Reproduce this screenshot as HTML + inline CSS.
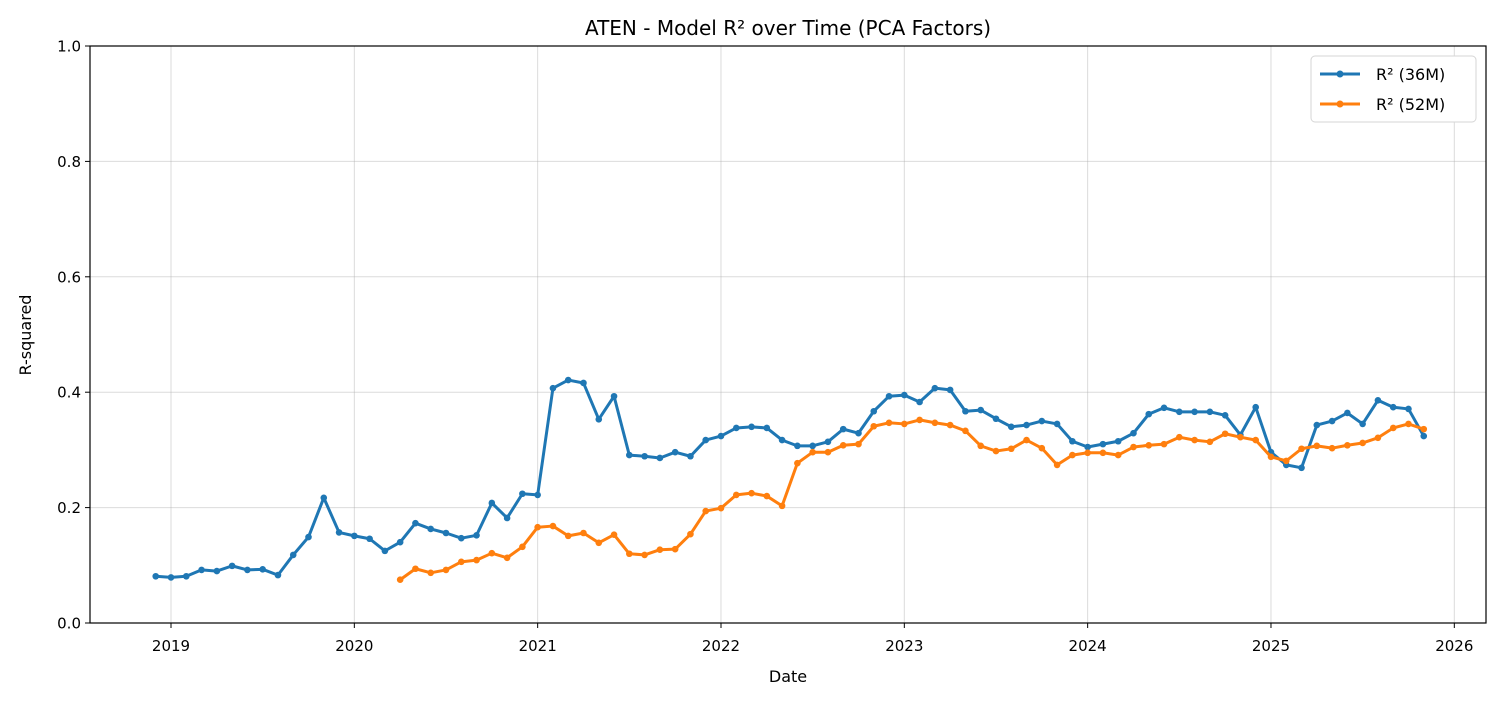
<!DOCTYPE html>
<html><head><meta charset="utf-8">
<style>
html,body{margin:0;padding:0;background:#fff;}
svg{display:block;font-family:"DejaVu Sans","Liberation Sans",sans-serif;}
</style></head>
<body>
<svg id="chart" width="1501" height="701" viewBox="0 0 1501 701">
<rect width="1501" height="701" fill="#fff"/>
<text x="788" y="35" font-size="20" text-anchor="middle" fill="#000">ATEN - Model R² over Time (PCA Factors)</text>
<g id="grid"></g>
<g id="series"></g>
<rect x="90" y="46" width="1396" height="577" fill="none" stroke="#000" stroke-width="1.2"/>
<g id="axes"></g>
<text x="788" y="682" font-size="16" text-anchor="middle">Date</text>
<text x="31" y="335" font-size="16" text-anchor="middle" transform="rotate(-90 31 335)">R-squared</text>
<g>
<rect x="1311" y="56" width="165" height="66" rx="4" fill="#fff" stroke="#d5d5d5"/>
<g>
<line x1="1320" y1="74" x2="1360" y2="74" stroke="#1f77b4" stroke-width="3"/><circle cx="1340" cy="74" r="3.5" fill="#1f77b4"/>
<text x="1376" y="80" font-size="16">R² (36M)</text></g>
<g>
<line x1="1320" y1="104" x2="1360" y2="104" stroke="#ff7f0e" stroke-width="3"/><circle cx="1340" cy="104" r="3.5" fill="#ff7f0e"/>
<text x="1376" y="110" font-size="16">R² (52M)</text></g>
</g>
</svg>
<script>
const yTicks=[0,0.2,0.4,0.6,0.8,1.0];
const yTickLabels=["0.0","0.2","0.4","0.6","0.8","1.0"];
const xTickYears=[2019,2020,2021,2022,2023,2024,2025,2026];
const s36Start=[2018,12];
const s36=[0.081,0.079,0.081,0.092,0.090,0.099,0.092,0.093,0.083,0.118,0.149,0.217,0.157,
0.151,0.146,0.125,0.140,0.173,0.163,0.156,0.147,0.152,0.208,0.182,0.224,
0.222,0.407,0.421,0.416,0.353,0.393,0.291,0.289,0.286,0.296,0.289,0.317,
0.324,0.338,0.340,0.338,0.317,0.307,0.307,0.314,0.336,0.329,0.367,0.393,
0.395,0.383,0.407,0.404,0.367,0.369,0.354,0.340,0.343,0.350,0.345,0.315,
0.305,0.310,0.315,0.329,0.362,0.373,0.366,0.366,0.366,0.360,0.326,0.374,
0.296,0.274,0.269,0.343,0.350,0.364,0.345,0.386,0.374,0.371,0.324];
const s52Start=[2020,4];
const s52=[0.075,0.094,0.087,0.092,0.106,0.109,0.121,0.113,0.132,
0.166,0.168,0.151,0.156,0.139,0.153,0.120,0.118,0.127,0.128,0.154,0.194,
0.199,0.222,0.225,0.220,0.203,0.277,0.296,0.296,0.308,0.310,0.341,0.347,
0.345,0.352,0.347,0.343,0.333,0.307,0.298,0.302,0.317,0.303,0.274,0.291,
0.295,0.295,0.291,0.305,0.308,0.310,0.322,0.317,0.314,0.328,0.322,0.317,
0.288,0.281,0.302,0.307,0.303,0.308,0.312,0.321,0.338,0.345,0.336];

const NS="http://www.w3.org/2000/svg";
const X0=90,X1=1486,Y0=623,Y1=46;
function yScale(v){return Y0-(v-0)/(1-0)*(Y0-Y1);}
function xScale(t){return 171+(t-2019)*183.33;}
function monthT(y,m){return y+(m-1)/12;}
function mk(tag,attrs,parent){const e=document.createElementNS(NS,tag);for(const k in attrs)e.setAttribute(k,attrs[k]);parent.appendChild(e);return e;}
const grid=document.getElementById('grid'),axes=document.getElementById('axes'),series=document.getElementById('series');
yTicks.forEach((v,i)=>{
 const y=yScale(v);
 const g=mk('line',{x1:X0,x2:X1,y1:y,y2:y,stroke:'#b0b0b0','stroke-opacity':0.45,'stroke-width':1},grid);
 
 
 mk('line',{x1:X0-5,x2:X0,y1:y,y2:y,stroke:'#000'},axes);
 const t=mk('text',{x:X0-9,y:y+5.5,'font-size':15,'text-anchor':'end'},axes);
 t.textContent=yTickLabels[i];
 
 
});
xTickYears.forEach(yr=>{
 const x=xScale(yr);
 const g=mk('line',{x1:x,x2:x,y1:Y1,y2:Y0,stroke:'#b0b0b0','stroke-opacity':0.45,'stroke-width':1},grid);
 
 
 mk('line',{x1:x,x2:x,y1:Y0,y2:Y0+5,stroke:'#000'},axes);
 const t=mk('text',{x:x,y:Y0+28,'font-size':15,'text-anchor':'middle'},axes);
 t.textContent=yr;
 
 
});
function drawSeries(vals,start,color,name){
 const g=mk('g',{},series);
 
 
 const pts=vals.map((v,i)=>[xScale(monthT(start[0],start[1]+i)),yScale(v)]);
 const p=mk('polyline',{points:pts.map(p=>p.join(',')).join(' '),fill:'none',stroke:color,'stroke-width':3,'stroke-linejoin':'round'},g);
 
 
 pts.forEach(pt=>{
  const c=mk('circle',{cx:pt[0],cy:pt[1],r:3.3,fill:color},g);
  
  
 });
}
drawSeries(s36,s36Start,'#1f77b4','series-36m');
drawSeries(s52,s52Start,'#ff7f0e','series-52m');
</script>
</body></html>
